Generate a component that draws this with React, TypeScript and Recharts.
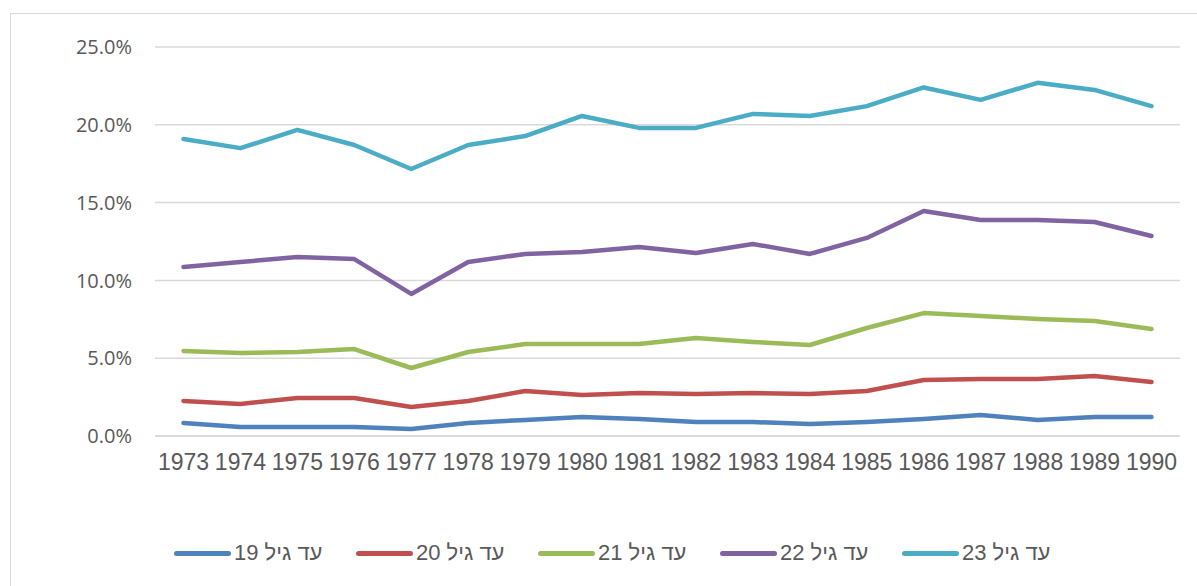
import React from 'react';
import { LineChart, Line, XAxis, YAxis, CartesianGrid, Legend } from 'recharts';

const years = [
  '1973', '1974', '1975', '1976', '1977', '1978', '1979', '1980', '1981',
  '1982', '1983', '1984', '1985', '1986', '1987', '1988', '1989', '1990',
];

// values in percent
const age19 = [0.84, 0.58, 0.58, 0.58, 0.45, 0.84, 1.03, 1.22, 1.1, 0.9, 0.9, 0.77, 0.9, 1.1, 1.35, 1.03, 1.22, 1.22];
const age20 = [2.25, 2.06, 2.44, 2.44, 1.86, 2.25, 2.89, 2.63, 2.76, 2.7, 2.76, 2.7, 2.89, 3.6, 3.66, 3.66, 3.86, 3.47];
const age21 = [5.46, 5.33, 5.4, 5.59, 4.37, 5.4, 5.91, 5.91, 5.91, 6.3, 6.04, 5.85, 6.94, 7.9, 7.71, 7.52, 7.39, 6.88];
const age22 = [10.86, 11.18, 11.5, 11.37, 9.13, 11.18, 11.7, 11.83, 12.15, 11.76, 12.34, 11.7, 12.73, 14.46, 13.88, 13.88, 13.75, 12.85];
const age23 = [19.09, 18.5, 19.67, 18.7, 17.16, 18.7, 19.28, 20.57, 19.8, 19.8, 20.7, 20.57, 21.2, 22.4, 21.6, 22.7, 22.24, 21.2];

const yTicks = [0, 5, 10, 15, 20, 25];

const series = [
  { key: 'a19', name: 'עד גיל 19', color: '#4F81BD', values: age19 },
  { key: 'a20', name: 'עד גיל 20', color: '#C0504D', values: age20 },
  { key: 'a21', name: 'עד גיל 21', color: '#9BBB59', values: age21 },
  { key: 'a22', name: 'עד גיל 22', color: '#8064A2', values: age22 },
  { key: 'a23', name: 'עד גיל 23', color: '#4BACC6', values: age23 },
];

const data = years.map((year, i) => {
  const row: Record<string, string | number> = { year };
  series.forEach((s) => {
    row[s.key] = s.values[i];
  });
  return row;
});

const renderLegend = () => (
  <div style={{ display: 'flex', paddingLeft: 174 }}>
    {series.map((s) => (
      <div key={s.key} style={{ display: 'flex', alignItems: 'center', width: 182 }}>
        <div style={{ width: 57, height: 5, borderRadius: 3, background: s.color, marginRight: 3 }} />
        <span
          dir="rtl"
          style={{ fontFamily: "'Liberation Sans', Arial, sans-serif", fontSize: 22, color: '#595959', whiteSpace: 'nowrap' }}
        >
          {s.name}
        </span>
      </div>
    ))}
  </div>
);

export default function App() {
  return (
    <div style={{ position: 'relative', width: 1197, height: 586, overflow: 'hidden', background: '#fff' }}>
      <style>{'body{margin:0}'}</style>
      <div
        style={{
          position: 'absolute', left: 10, top: 13, width: 1210, height: 600,
          border: '1px solid #d9d9d9', boxSizing: 'border-box',
        }}
      />
      <LineChart width={1197} height={586} data={data} margin={{ top: 47, right: 17, left: 0, bottom: 64 }}>
        <CartesianGrid vertical={false} stroke="#d9d9d9" strokeWidth={1.5} />
        <XAxis
          dataKey="year"
          padding={{ left: 28.5, right: 28.5 }}
          axisLine={{ stroke: '#d9d9d9', strokeWidth: 1.5 }}
          tickLine={false}
          tickSize={0}
          tickMargin={18}
          height={60}
          interval={0}
          tick={{ fill: '#595959', fontSize: 23, fontFamily: "'Liberation Sans', Arial, sans-serif" }}
        />
        <YAxis
          domain={[0, 25]}
          ticks={yTicks}
          width={155}
          axisLine={false}
          tickLine={false}
          tickSize={0}
          tickMargin={23}
          tickFormatter={(v: number) => `${v.toFixed(1)}%`}
          tick={{ fill: '#595959', fontSize: 20, fontFamily: "'Open Sans', sans-serif" }}
        />
        <Legend
          verticalAlign="bottom"
          content={renderLegend}
          wrapperStyle={{ left: 0, top: 540, width: 1197 }}
        />
        {series.map((s) => (
          <Line
            key={s.key}
            type="linear"
            dataKey={s.key}
            name={s.name}
            stroke={s.color}
            strokeWidth={4.5}
            strokeLinecap="round"
            strokeLinejoin="round"
            dot={false}
            activeDot={false}
            isAnimationActive={false}
          />
        ))}
      </LineChart>
    </div>
  );
}
